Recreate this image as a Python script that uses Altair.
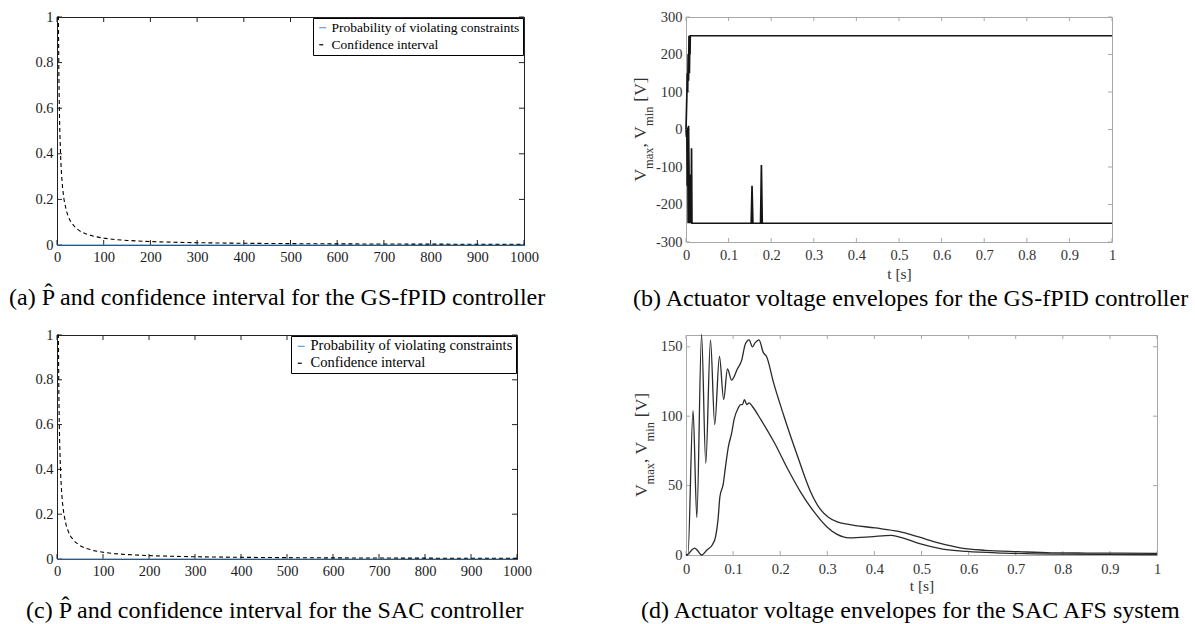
import altair as alt
import pandas as pd

# ---------------- data ----------------
LBL_P = "Probability of violating constraints"
LBL_C = "Confidence interval"

n_ticks = [0, 100, 200, 300, 400, 500, 600, 700, 800, 900, 1000]
p_ticks = [0, 0.2, 0.4, 0.6, 0.8, 1]
t_ticks = [0, 0.1, 0.2, 0.3, 0.4, 0.5, 0.6, 0.7, 0.8, 0.9, 1]
vb_ticks = [-300, -200, -100, 0, 100, 200, 300]
vd_ticks = [0, 50, 100, 150]

# (a) GS-fPID: probability estimate and confidence interval
a_prob_n = [0, 1000]
a_prob_v = [0, 0]
a_ci_n = [1, 2, 3, 4, 5, 6, 8, 10, 12, 15, 20, 25, 30, 40, 50, 60, 80, 100, 125, 150,
          200, 250, 300, 400, 500, 600, 700, 800, 900, 1000]
a_ci_v = [1.0, 1.0, 1.0, 0.75, 0.6, 0.5, 0.375, 0.3, 0.25, 0.2, 0.15, 0.12, 0.1, 0.075, 0.06,
          0.05, 0.0375, 0.03, 0.024, 0.02, 0.015, 0.012, 0.01, 0.0075, 0.006, 0.005, 0.0043,
          0.0038, 0.0033, 0.003]

# (c) SAC: probability estimate and confidence interval
c_prob_n = [0, 1000]
c_prob_v = [0, 0]
c_ci_n = [1, 2, 3, 4, 5, 6, 8, 10, 12, 15, 20, 25, 30, 40, 50, 60, 80, 100, 125, 150,
          200, 250, 300, 400, 500, 600, 700, 800, 900, 1000]
c_ci_v = [1.0, 1.0, 1.0, 0.75, 0.6, 0.5, 0.375, 0.3, 0.25, 0.2, 0.15, 0.12, 0.1, 0.075, 0.06,
          0.05, 0.0375, 0.03, 0.024, 0.02, 0.015, 0.012, 0.01, 0.0075, 0.006, 0.005, 0.0043,
          0.0038, 0.0033, 0.003]

# (b) GS-fPID voltage envelopes
b_up_t = [0, 0.002, 0.003, 0.004, 0.005, 0.006, 0.007, 0.008, 0.009, 0.0095, 0.010, 1.0]
b_up_v = [0, 90, 150, 100, 200, 130, 250, 150, 250, 200, 250, 250]
b_lo_t = [0, 0.001, 0.002, 0.003, 0.004, 0.005, 0.006, 0.007, 0.008, 0.009, 0.010, 0.011,
          0.012, 0.013, 0.014, 0.015, 0.153, 0.155, 0.157, 0.175, 0.177, 0.179, 1.0]
b_lo_v = [0, -20, -5, -150, 5, -250, 10, -100, -250, -120, -250, -200, -250, -50, -250,
          -250, -250, -150, -250, -250, -95, -250, -250]

# (d) SAC voltage envelopes
d_up_t = [0, 0.004, 0.015, 0.023, 0.033, 0.042, 0.052, 0.061, 0.071, 0.080, 0.088, 0.097,
          0.109, 0.118, 0.126, 0.134, 0.141, 0.147, 0.155, 0.164, 0.171, 0.186, 0.208, 0.236,
          0.264, 0.285, 0.303, 0.320, 0.345, 0.402, 0.451, 0.494, 0.536, 0.585, 0.635, 0.706,
          0.776, 0.85, 0.92, 1.0]
d_up_v = [0, 0, 104, 27, 159, 66, 155, 94, 143, 112, 134, 126, 134, 140, 152, 155, 150, 153,
          155, 146, 143, 124, 100, 72, 46, 33, 27, 24, 22, 19.5, 17, 13, 8.7, 5, 3.4, 2.4,
          1.6, 1.4, 1.3, 1.2]
d_lo_t = [0, 0.004, 0.012, 0.0185, 0.024, 0.033, 0.045, 0.056, 0.063, 0.068, 0.072, 0.079,
          0.084, 0.090, 0.097, 0.102, 0.111, 0.116, 0.120, 0.124, 0.129, 0.134, 0.141, 0.159,
          0.188, 0.216, 0.244, 0.272, 0.300, 0.320, 0.347, 0.39, 0.436, 0.46, 0.496, 0.545,
          0.596, 0.674, 0.78, 0.9, 1.0]
d_lo_v = [0, 0.5, 3.5, 5, 3.4, 0, 3.8, 7.4, 13.5, 25.5, 42, 51, 64, 78, 88, 97.5, 106, 108.4,
          108.4, 112, 108.4, 109.6, 107, 97.5, 80.7, 62, 45, 31, 20, 15, 12.3, 13, 14.2, 12.3,
          8.2, 4.3, 2.6, 1.4, 0.6, 0.4, 0.3]

CAP_A = "(a) P\u0302 and confidence interval for the GS-fPID controller"
CAP_B = "(b) Actuator voltage envelopes for the GS-fPID controller"
CAP_C = "(c) P\u0302 and confidence interval for the SAC controller"
CAP_D = "(d) Actuator voltage envelopes for the SAC AFS system"

FONT = "Liberation Serif"
TICK_FS = 14.5
CAP_FS = 24


def num_axis(values, pad, color, title=None, tpad=0):
    if title is not None:
        kw = dict(title=title, titleFont=FONT, titleFontSize=15.5, titleFontWeight="normal",
                  titleColor=color, titlePadding=tpad)
    else:
        kw = dict(title=None)
    return alt.Axis(values=values, domain=False, ticks=False, tickSize=0,
                    grid=False, labelFont=FONT, labelFontSize=TICK_FS, labelColor=color,
                    labelPadding=pad, labelFlush=False, labelOverlap=False,
                    labelExpr="replace('' + datum.value, '\u2212', '-')", **kw)


def inner_ticks(xf, xvals, xs, xax, yf, yvals, ys, yax, w, h, color, L=5):
    xt = pd.DataFrame({xf: xvals})
    yt = pd.DataFrame({yf: yvals})
    m = dict(color=color, strokeWidth=1)
    return [
        alt.Chart(xt).mark_rule(**m).encode(x=alt.X(f"{xf}:Q", scale=xs, axis=xax),
                                            y=alt.value(h), y2=alt.value(h - L)),
        alt.Chart(xt).mark_rule(**m).encode(x=alt.X(f"{xf}:Q", scale=xs, axis=xax),
                                            y=alt.value(0), y2=alt.value(L)),
        alt.Chart(yt).mark_rule(**m).encode(y=alt.Y(f"{yf}:Q", scale=ys, axis=yax),
                                            x=alt.value(0), x2=alt.value(L)),
        alt.Chart(yt).mark_rule(**m).encode(y=alt.Y(f"{yf}:Q", scale=ys, axis=yax),
                                            x=alt.value(w), x2=alt.value(w - L)),
    ]


def caption(text, dx, offset):
    return alt.TitleParams(text=text, orient="bottom", anchor="start", frame="group",
                           dx=dx, offset=offset, font=FONT, fontSize=CAP_FS,
                           fontWeight="normal", color="black")


def prob_panel(ci_n, ci_v, p_n, p_v, w, h, leg_fs, cap, cap_dx, cap_off):
    df = pd.concat([
        pd.DataFrame({"series": LBL_P, "n": p_n, "v": p_v}),
        pd.DataFrame({"series": LBL_C, "n": ci_n, "v": ci_v}),
    ])
    leg = dict(title=None, orient="top-right", offset=1, fillColor="white",
               strokeColor="black", padding=3, rowPadding=2, symbolType="stroke",
               symbolSize=49, symbolStrokeWidth=1.2, labelFont=FONT, labelFontSize=leg_fs,
               labelColor="black", labelOffset=2, labelLimit=500, cornerRadius=0)
    xs = alt.Scale(domain=[0, 1000], nice=False, zero=False)
    ys = alt.Scale(domain=[0, 1], nice=False, zero=False)
    xax = num_axis(n_ticks, 5, "#1a1a1a")
    yax = num_axis(p_ticks, 4, "#1a1a1a")
    lines = alt.Chart(df).mark_line(strokeWidth=1.1).encode(
        x=alt.X("n:Q", scale=xs, axis=xax),
        y=alt.Y("v:Q", scale=ys, axis=yax),
        color=alt.Color("series:N", scale=alt.Scale(domain=[LBL_P, LBL_C],
                                                    range=["#3D8FD1", "black"]),
                        legend=alt.Legend(**leg)),
        strokeDash=alt.StrokeDash("series:N", scale=alt.Scale(domain=[LBL_P, LBL_C],
                                                              range=[[1, 0], [4, 3]]),
                                  legend=alt.Legend(**leg)),
        order=alt.Order("n:Q"),
    )
    ticks = inner_ticks("n", n_ticks, xs, xax, "v", p_ticks, ys, yax, w, h, "#222222")
    return alt.layer(*ticks, lines).properties(
        width=w, height=h, view=alt.ViewBackground(stroke="#222222", strokeWidth=1),
        title=caption(cap, cap_dx, cap_off))


def ytitle(h, xb, F, Fs, drop, color):
    one = pd.DataFrame({"k": [0]})
    # (text, font size, advance in em, gap before in em)
    pieces = [("V", F, 0.722, 0), ("max", Fs, 1.722, 0), (", V", F, 1.222, 0),
              ("min", Fs, 1.556, 0), ("[V]", F, 1.388, 0.28)]
    total = sum(s * (e + g) for _, s, e, g in pieces)
    y = h / 2 + total / 2
    out = []
    for text, size, em, gap in pieces:
        y -= size * gap
        dx = drop if size == Fs else 0
        out.append(alt.Chart(one).mark_text(text=text, angle=270, align="left",
                                             baseline="alphabetic", font=FONT,
                                             fontSize=size, color=color)
                   .encode(x=alt.value(xb + dx), y=alt.value(y)))
        y -= size * em
    return out


def volt_panel(up_t, up_v, lo_t, lo_v, ydom, yvals, w, h, sw, interp, col,
               cap, cap_dx, cap_off, xpad, tpad, yx):
    df = pd.concat([
        pd.DataFrame({"series": "max", "t": up_t, "v": up_v}),
        pd.DataFrame({"series": "min", "t": lo_t, "v": lo_v}),
    ])
    xs = alt.Scale(domain=[0, 1], nice=False, zero=False)
    ys = alt.Scale(domain=ydom, nice=False, zero=False)
    xax = num_axis(t_ticks, xpad, "#333333", title="t [s]", tpad=tpad)
    yax = num_axis(yvals, 4, "#333333")
    lines = alt.Chart(df).mark_line(strokeWidth=sw, color=col, interpolate=interp).encode(
        x=alt.X("t:Q", scale=xs, axis=xax),
        y=alt.Y("v:Q", scale=ys, axis=yax),
        detail="series:N",
        order=alt.Order("t:Q"),
    )
    ticks = inner_ticks("t", t_ticks, xs, xax, "v", yvals, ys, yax, w, h, "#A8A8A8", L=4)
    yt = ytitle(h, yx, 17.5, 12.5, 7, "#333333")
    return alt.layer(*ticks, lines, *yt).properties(
        width=w, height=h, view=alt.ViewBackground(stroke="#A8A8A8", strokeWidth=1),
        title=caption(cap, cap_dx, cap_off))


pa = prob_panel(a_ci_n, a_ci_v, a_prob_n, a_prob_v, 467, 228, 13.5, CAP_A, -48, 22)
pc = prob_panel(c_ci_n, c_ci_v, c_prob_n, c_prob_v, 460, 224, 14.5, CAP_C, -31, 21)
pb = volt_panel(b_up_t, b_up_v, b_lo_t, b_lo_v, [-300, 300], vb_ticks, 426, 225, 1.7,
                "linear", "#151515", CAP_B, -53, 5, 6, 5, -40)
pd_ = volt_panel(d_up_t, d_up_v, d_lo_t, d_lo_v, [0, 158.5], vd_ticks, 471, 220, 1.3,
                 "monotone", "#2a2a2a", CAP_D, -45, 5, 7, 3, -39)

chart = alt.concat(pa, pb, pc, pd_, columns=2, spacing={"row": 90, "column": 162},
                   bounds="flush", align="each").resolve_scale(
    color="independent", strokeDash="independent"
).resolve_legend(
    color="independent", strokeDash="independent"
).properties(
    padding={"left": 8, "top": 8, "right": 0, "bottom": 0},
    background="white",
).configure_view(stroke=None)

chart.save("out.html", embed_options={"renderer": "svg", "actions": False})
